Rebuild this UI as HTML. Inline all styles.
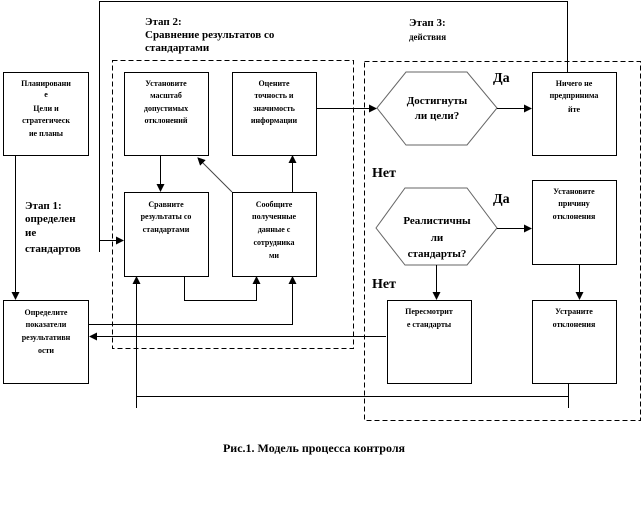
<!DOCTYPE html>
<html><head><meta charset="utf-8"><style>
html,body{margin:0;padding:0;background:#fff;}
svg{display:block;font-family:"Liberation Serif","DejaVu Serif",serif;font-weight:bold;}
.s{font-size:8px;}
.l{font-size:11px;}
</style></head><body>
<svg width="641" height="507" viewBox="0 0 641 507" xmlns="http://www.w3.org/2000/svg">
<defs><marker id="a" markerWidth="8" markerHeight="8" refX="7" refY="4" orient="auto" markerUnits="userSpaceOnUse"><path d="M0,0 L8,4 L0,8z" fill="#000"/></marker></defs>
<g fill="none" stroke="#000" stroke-width="1">
<rect x="112.5" y="60.5" width="241" height="288" stroke-dasharray="5,3"/>
<rect x="364.5" y="61.5" width="276" height="359" stroke-dasharray="5,3"/>
<rect x="3.5" y="72.5" width="85" height="83"/>
<rect x="3.5" y="300.5" width="85" height="83"/>
<rect x="124.5" y="72.5" width="84" height="83"/>
<rect x="232.5" y="72.5" width="84" height="83"/>
<rect x="124.5" y="192.5" width="84" height="84"/>
<rect x="232.5" y="192.5" width="84" height="84"/>
<rect x="532.5" y="72.5" width="84" height="83"/>
<rect x="532.5" y="180.5" width="84" height="84"/>
<rect x="387.5" y="300.5" width="84" height="83"/>
<rect x="532.5" y="300.5" width="84" height="83"/>
<polygon points="377,108 406,72 467,72 497,108 467,145 406,145" stroke="#666"/>
<polygon points="376,228 405,188 467,188 497,228 467,265 405,265" stroke="#666"/>
<polyline points="567.5,72 567.5,1.5 99.5,1.5 99.5,252"/>
<line x1="99" y1="240.5" x2="123" y2="240.5" marker-end="url(#a)"/>
<line x1="15.5" y1="155" x2="15.5" y2="299" marker-end="url(#a)"/>
<line x1="160.5" y1="155" x2="160.5" y2="191" marker-end="url(#a)"/>
<line x1="232" y1="192" x2="198" y2="158" marker-end="url(#a)" stroke="#444"/>
<line x1="292.5" y1="192" x2="292.5" y2="156" marker-end="url(#a)"/>
<polyline points="184.5,276 184.5,300.5 256.5,300.5 256.5,277" marker-end="url(#a)"/>
<polyline points="88,324.5 292.5,324.5 292.5,277" marker-end="url(#a)"/>
<line x1="386" y1="336.5" x2="90" y2="336.5" marker-end="url(#a)"/>
<line x1="136.5" y1="408" x2="136.5" y2="277" marker-end="url(#a)"/>
<line x1="136" y1="396.5" x2="568" y2="396.5"/>
<line x1="568.5" y1="383" x2="568.5" y2="408"/>
<line x1="316" y1="108.5" x2="376" y2="108.5" marker-end="url(#a)"/>
<line x1="497" y1="108.5" x2="531" y2="108.5" marker-end="url(#a)"/>
<line x1="497" y1="228.5" x2="531" y2="228.5" marker-end="url(#a)"/>
<line x1="436.5" y1="265" x2="436.5" y2="299" marker-end="url(#a)"/>
<line x1="579.5" y1="264" x2="579.5" y2="299" marker-end="url(#a)"/>
</g>
<g class="s" text-anchor="middle">
<text x="46" y="86">Планировани</text><text x="46" y="97">е</text><text x="46" y="111">Цели и</text><text x="46" y="123">стратегическ</text><text x="46" y="136">ие планы</text>
<text x="166" y="86">Установите</text><text x="166" y="98">масштаб</text><text x="166" y="111">допустимых</text><text x="166" y="123">отклонений</text>
<text x="274" y="86">Оцените</text><text x="274" y="98">точность и</text><text x="274" y="111">значимость</text><text x="274" y="123">информации</text>
<text x="166" y="207">Сравните</text><text x="166" y="219">результаты со</text><text x="166" y="232">стандартами</text>
<text x="274" y="207">Сообщите</text><text x="274" y="219">полученные</text><text x="274" y="232">данные с</text><text x="274" y="245">сотрудника</text><text x="274" y="258">ми</text>
<text x="46" y="315">Определите</text><text x="46" y="327">показатели</text><text x="46" y="340">результативн</text><text x="46" y="353">ости</text>
<text x="574" y="86">Ничего не</text><text x="574" y="98">предпринима</text><text x="574" y="112">йте</text>
<text x="574" y="194">Установите</text><text x="574" y="206">причину</text><text x="574" y="219">отклонения</text>
<text x="429" y="314">Пересмотрит</text><text x="429" y="327">е стандарты</text>
<text x="574" y="314">Устраните</text><text x="574" y="327">отклонения</text>
</g>
<g class="l" text-anchor="middle">
<text x="437" y="104">Достигнуты</text><text x="437" y="119">ли цели?</text>
<text x="437" y="224">Реалистичны</text><text x="437" y="241">ли</text><text x="437" y="257">стандарты?</text>
</g>
<g class="l">
<text x="145" y="25">Этап 2:</text><text x="145" y="38">Сравнение результатов  со</text><text x="145" y="51">стандартами</text>
<text x="409" y="26">Этап 3:</text><text x="409" y="40" class="s" style="font-size:9px">действия</text>
<text x="25" y="209">Этап 1:</text><text x="25" y="222">определен</text><text x="25" y="236">ие</text><text x="25" y="252">стандартов</text>
<text x="493" y="82" style="font-size:14px">Да</text>
<text x="372" y="177" style="font-size:14px">Нет</text>
<text x="493" y="203" style="font-size:14px">Да</text>
<text x="372" y="288" style="font-size:14px">Нет</text>
<text x="314" y="452" text-anchor="middle" style="font-size:12px">Рис.1. Модель процесса контроля</text>
</g>
</svg>
</body></html>
